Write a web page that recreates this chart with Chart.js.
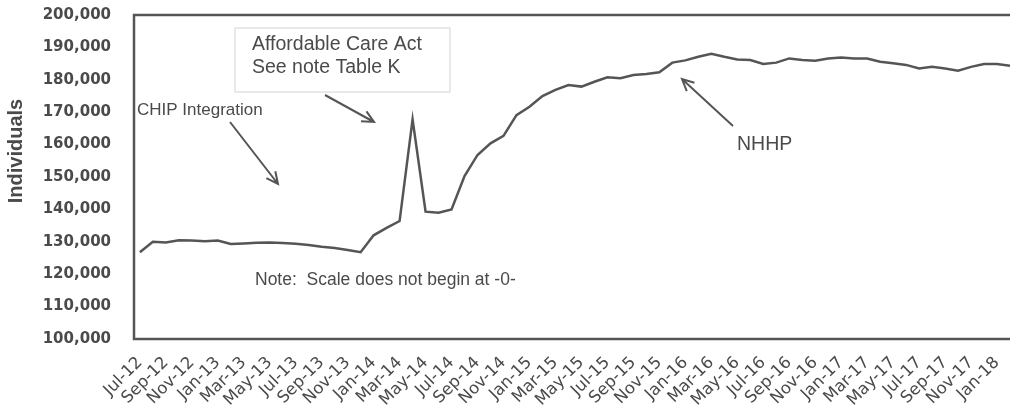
<!DOCTYPE html>
<html>
<head>
<meta charset="utf-8">
<script src="https://cdn.jsdelivr.net/npm/chart.js@4.4.1/dist/chart.umd.min.js"></script>
<style>
  html, body { margin: 0; padding: 0; background: #fff; }
  #wrap { width: 1010px; height: 413px; position: relative; }
</style>
</head>
<body>
<div id="wrap"><canvas id="myChart"></canvas></div>
<script>
// months Jul-12 .. Feb-18
const months = [
  'Jul-12', 'Aug-12', 'Sep-12', 'Oct-12', 'Nov-12', 'Dec-12',
  'Jan-13', 'Feb-13', 'Mar-13', 'Apr-13', 'May-13', 'Jun-13', 'Jul-13', 'Aug-13', 'Sep-13', 'Oct-13', 'Nov-13', 'Dec-13',
  'Jan-14', 'Feb-14', 'Mar-14', 'Apr-14', 'May-14', 'Jun-14', 'Jul-14', 'Aug-14', 'Sep-14', 'Oct-14', 'Nov-14', 'Dec-14',
  'Jan-15', 'Feb-15', 'Mar-15', 'Apr-15', 'May-15', 'Jun-15', 'Jul-15', 'Aug-15', 'Sep-15', 'Oct-15', 'Nov-15', 'Dec-15',
  'Jan-16', 'Feb-16', 'Mar-16', 'Apr-16', 'May-16', 'Jun-16', 'Jul-16', 'Aug-16', 'Sep-16', 'Oct-16', 'Nov-16', 'Dec-16',
  'Jan-17', 'Feb-17', 'Mar-17', 'Apr-17', 'May-17', 'Jun-17', 'Jul-17', 'Aug-17', 'Sep-17', 'Oct-17', 'Nov-17', 'Dec-17',
  'Jan-18', 'Feb-18'
]

// individuals enrolled, per month
const individuals = [
  126800, 130000, 129800, 130500, 130400, 130200,
  130400, 129300, 129500, 129700, 129800, 129600, 129400, 129000, 128500, 128100, 127500, 126800,
  132000, 134300, 136400, 167800, 139300, 139000, 140000, 150300, 156800, 160400, 162700, 169100,
  171700, 175000, 176900, 178400, 177900, 179400, 180800, 180500, 181500, 181800, 182300, 185300,
  186000, 187100, 188000, 187100, 186300, 186100, 184900, 185300, 186600, 186100, 185900, 186600,
  186900, 186600, 186600, 185600, 185100, 184600, 183500, 184000, 183500, 182800, 184000, 184900,
  184900, 184300
]

const yTicks = [100000, 110000, 120000, 130000, 140000, 150000, 160000, 170000, 180000, 190000, 200000]

const inkColor = '#4a4a4a'
const lineColor = '#555555'

// box, y title and the hand notes
const notesPlugin = {
  id: 'notes',
  afterDraw(chart) {
    const c = chart.ctx
    const area = chart.chartArea
    c.save()
    // frame
    c.strokeStyle = lineColor
    c.lineWidth = 2.5
    c.strokeRect(area.left, area.top, area.right - area.left + 10, area.bottom - area.top)

    // y title
    c.fillStyle = inkColor
    c.font = 'bold 20px "Liberation Sans", Arial, sans-serif'
    c.textAlign = 'center'
    c.textBaseline = 'middle'
    c.translate(16, 151)
    c.rotate(-Math.PI / 2)
    c.fillText('Individuals', 0, 0)
    c.restore()

    c.save()
    c.fillStyle = inkColor
    c.textBaseline = 'middle'
    c.textAlign = 'left'

    // faint box round the ACA note
    c.strokeStyle = '#e2e2e2'
    c.lineWidth = 1.5
    c.strokeRect(235, 28, 215, 64)

    c.font = '19.5px "Liberation Sans", Arial, sans-serif'
    c.fillText('Affordable Care Act', 252, 45)
    c.fillText('See note Table K', 252, 68)
    c.fillText('NHHP', 737, 145)

    c.font = '17px "Liberation Sans", Arial, sans-serif'
    c.fillText('CHIP Integration', 137, 110)

    c.font = '17.5px "Liberation Sans", Arial, sans-serif'
    c.fillText('Note:  Scale does not begin at -0-', 255, 280)

    // arrows
    const arrow = (x1, y1, x2, y2) => {
      const ang = Math.atan2(y2 - y1, x2 - x1)
      const h = 13
      c.beginPath()
      c.moveTo(x1, y1)
      c.lineTo(x2, y2)
      c.moveTo(x2 - h * Math.cos(ang - 0.45), y2 - h * Math.sin(ang - 0.45))
      c.lineTo(x2, y2)
      c.lineTo(x2 - h * Math.cos(ang + 0.45), y2 - h * Math.sin(ang + 0.45))
      c.stroke()
    }
    c.strokeStyle = lineColor
    c.lineWidth = 2
    arrow(230, 122, 278, 184)
    arrow(325, 95, 374, 122)
    arrow(733, 126, 682, 79)
    c.restore()
  }
}

const ctx = document.getElementById('myChart')
new Chart(ctx, {
  type: 'line',
  data: {
    datasets: [
      {
        data: individuals.map((v, i) => ({ x: i, y: v })),
        borderColor: lineColor,
        borderWidth: 2.5,
        pointRadius: 0,
        tension: 0,
        fill: false,
      },
    ],
  },
  options: {
    responsive: true,
    maintainAspectRatio: false,
    animation: false,
    layout: { padding: { top: 15, right: 0, left: 0, bottom: 0 } },
    plugins: {
      legend: { display: false },
      tooltip: { enabled: false },
    },
    scales: {
      x: {
        type: 'linear',
        min: -0.45,
        max: 67,
        grid: { display: false },
        border: { display: false },
        afterFit: (scale) => {
          scale.height = 74
          scale.paddingLeft = 0
          scale.paddingRight = 0
        },
        ticks: {
          stepSize: 2,
          includeBounds: false,
          autoSkip: false,
          maxRotation: 45,
          minRotation: 45,
          padding: 6,
          color: inkColor,
          font: { family: 'DejaVu Sans', size: 16.5 },
          callback: (v) => months[v] || '',
        },
      },
      y: {
        min: yTicks[0],
        max: yTicks[yTicks.length - 1],
        grid: { display: false },
        border: { display: false },
        afterFit: (scale) => {
          scale.width = 134
          scale.paddingTop = 0
          scale.paddingBottom = 0
        },
        afterBuildTicks: (scale) => { scale.ticks = yTicks.map((v) => ({ value: v })) },
        ticks: {
          padding: 15,
          color: inkColor,
          font: { family: 'DejaVu Sans', size: 15, weight: 'bold' },
          callback: (v) => v.toLocaleString('en-US'),
        },
      },
    },
  },
  plugins: [notesPlugin],
})
</script>
</body>
</html>
